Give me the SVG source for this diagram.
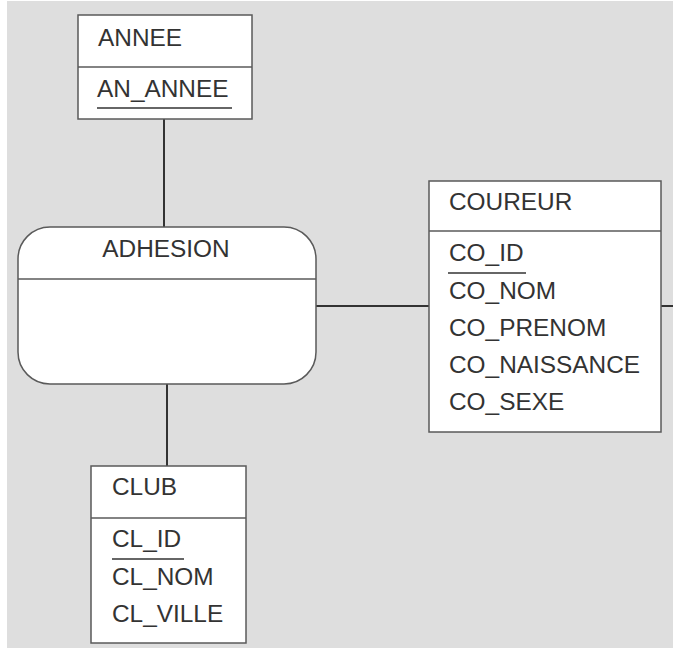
<svg xmlns="http://www.w3.org/2000/svg" width="686" height="653" viewBox="0 0 686 653">
<style>
.box{fill:#fff;stroke:#5a5a5a;stroke-width:1.5}
.div{stroke:#5a5a5a;stroke-width:1.5}
.t{font-family:"Liberation Sans",Arial,sans-serif;font-size:24.4px;fill:#333}
.tc{text-anchor:middle}
.ul{stroke:#333;stroke-width:1.6}
.con{stroke:#333;stroke-width:2;fill:none}
</style>
<rect x="0" y="0" width="686" height="653" fill="#fff"/>
<rect x="7" y="1" width="666" height="647" fill="#dedede"/>
<g id="connectors">
<line class="con" x1="164" y1="119" x2="164" y2="227"/>
<line class="con" x1="167" y1="384" x2="167" y2="466"/>
<line class="con" x1="316" y1="306" x2="429" y2="306"/>
<line class="con" x1="661" y1="306" x2="673" y2="306"/>
</g>
<g id="annee">
<rect class="box" x="78" y="15" width="174" height="104"/>
<line class="div" x1="78" y1="67" x2="252" y2="67"/>
<text class="t" x="98" y="46">ANNEE</text>
<text class="t" x="97" y="97">AN_ANNEE</text>
<line class="ul" x1="97" y1="108" x2="232" y2="108"/>
</g>
<g id="adhesion">
<rect class="box" x="18" y="227" width="298" height="157" rx="32" ry="32"/>
<line class="div" x1="18" y1="279" x2="316" y2="279"/>
<text class="t tc" x="166" y="257">ADHESION</text>
</g>
<g id="coureur">
<rect class="box" x="429" y="181" width="232" height="251"/>
<line class="div" x1="429" y1="231" x2="661" y2="231"/>
<text class="t" x="449" y="210">COUREUR</text>
<text class="t" x="449" y="261">CO_ID</text>
<line class="ul" x1="448" y1="273" x2="526" y2="273"/>
<text class="t" x="449" y="299">CO_NOM</text>
<text class="t" x="449" y="336">CO_PRENOM</text>
<text class="t" x="449" y="373">CO_NAISSANCE</text>
<text class="t" x="449" y="410">CO_SEXE</text>
</g>
<g id="club">
<rect class="box" x="91" y="466" width="155" height="177"/>
<line class="div" x1="91" y1="518" x2="246" y2="518"/>
<text class="t" x="112" y="495">CLUB</text>
<text class="t" x="112" y="547">CL_ID</text>
<line class="ul" x1="112" y1="559" x2="184" y2="559"/>
<text class="t" x="112" y="585">CL_NOM</text>
<text class="t" x="112" y="622">CL_VILLE</text>
</g>
</svg>
